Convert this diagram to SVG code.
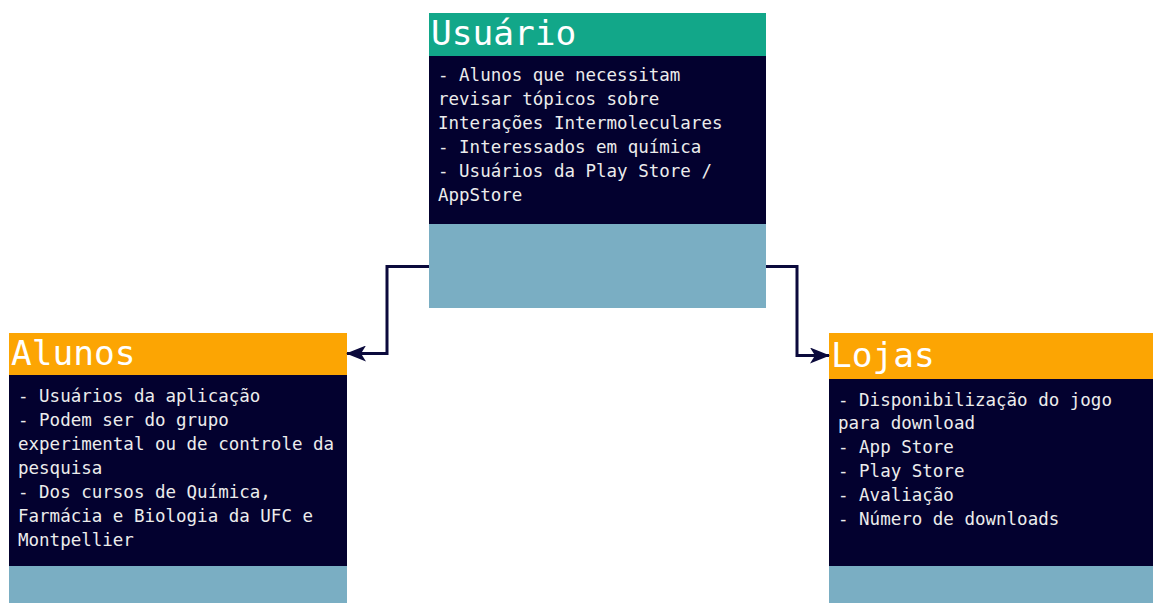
<svg xmlns="http://www.w3.org/2000/svg" width="1153" height="603" viewBox="0 0 1153 603">
  <style>
    .head-green { fill: #12a789; }
    .head-orange { fill: #fca503; }
    .body { fill: #03012f; }
    .foot { fill: #7aaec3; }
    .title { font-family: "DejaVu Sans Mono", "Liberation Mono", monospace; font-size: 34.5px; fill: #ffffff; }
    .item { font-family: "DejaVu Sans Mono", "Liberation Mono", monospace; font-size: 17.5px; fill: #ececec; }
    .link { fill: none; stroke: #0b0a3c; stroke-width: 3; }
  </style>
  <defs>
    <marker id="arrow" viewBox="0 0 20 16" refX="19" refY="8" markerWidth="20" markerHeight="16" markerUnits="userSpaceOnUse" orient="auto">
      <path d="M0,0 L20,8 L0,16 L5,8 Z" fill="#0b0a3c"/>
    </marker>
  </defs>
  <rect width="1153" height="603" fill="#ffffff"/>

  <g id="usuario">
    <rect class="head-green" x="429" y="13" width="337" height="43"/>
    <rect class="body" x="429" y="56" width="337" height="168"/>
    <rect class="foot" x="429" y="224" width="337" height="84"/>
    <text class="title" x="431" y="45">Usuário</text>
    <text class="item" x="438" y="81">- Alunos que necessitam</text>
    <text class="item" x="438" y="105">revisar tópicos sobre</text>
    <text class="item" x="438" y="129">Interações Intermoleculares</text>
    <text class="item" x="438" y="153">- Interessados em química</text>
    <text class="item" x="438" y="177">- Usuários da Play Store /</text>
    <text class="item" x="438" y="201">AppStore</text>
  </g>

  <g id="alunos">
    <rect class="head-orange" x="9" y="333" width="338" height="42"/>
    <rect class="body" x="9" y="375" width="338" height="191"/>
    <rect class="foot" x="9" y="566" width="338" height="37"/>
    <text class="title" x="11" y="365">Alunos</text>
    <text class="item" x="18" y="402">- Usuários da aplicação</text>
    <text class="item" x="18" y="426">- Podem ser do grupo</text>
    <text class="item" x="18" y="450">experimental ou de controle da</text>
    <text class="item" x="18" y="474">pesquisa</text>
    <text class="item" x="18" y="498">- Dos cursos de Química,</text>
    <text class="item" x="18" y="522">Farmácia e Biologia da UFC e</text>
    <text class="item" x="18" y="546">Montpellier</text>
  </g>

  <g id="lojas">
    <rect class="head-orange" x="829" y="333" width="324" height="46"/>
    <rect class="body" x="829" y="379" width="324" height="187"/>
    <rect class="foot" x="829" y="566" width="324" height="37"/>
    <text class="title" x="831" y="367">Lojas</text>
    <text class="item" x="838" y="406">- Disponibilização do jogo</text>
    <text class="item" x="838" y="429">para download</text>
    <text class="item" x="838" y="453">- App Store</text>
    <text class="item" x="838" y="477">- Play Store</text>
    <text class="item" x="838" y="501">- Avaliação</text>
    <text class="item" x="838" y="525">- Número de downloads</text>
  </g>

  <g id="connectors">
    <path class="link" d="M429,266.5 H387 V353.5 H347" marker-end="url(#arrow)"/>
    <path class="link" d="M766,266.5 H797 V355.5 H829" marker-end="url(#arrow)"/>
  </g>
</svg>
